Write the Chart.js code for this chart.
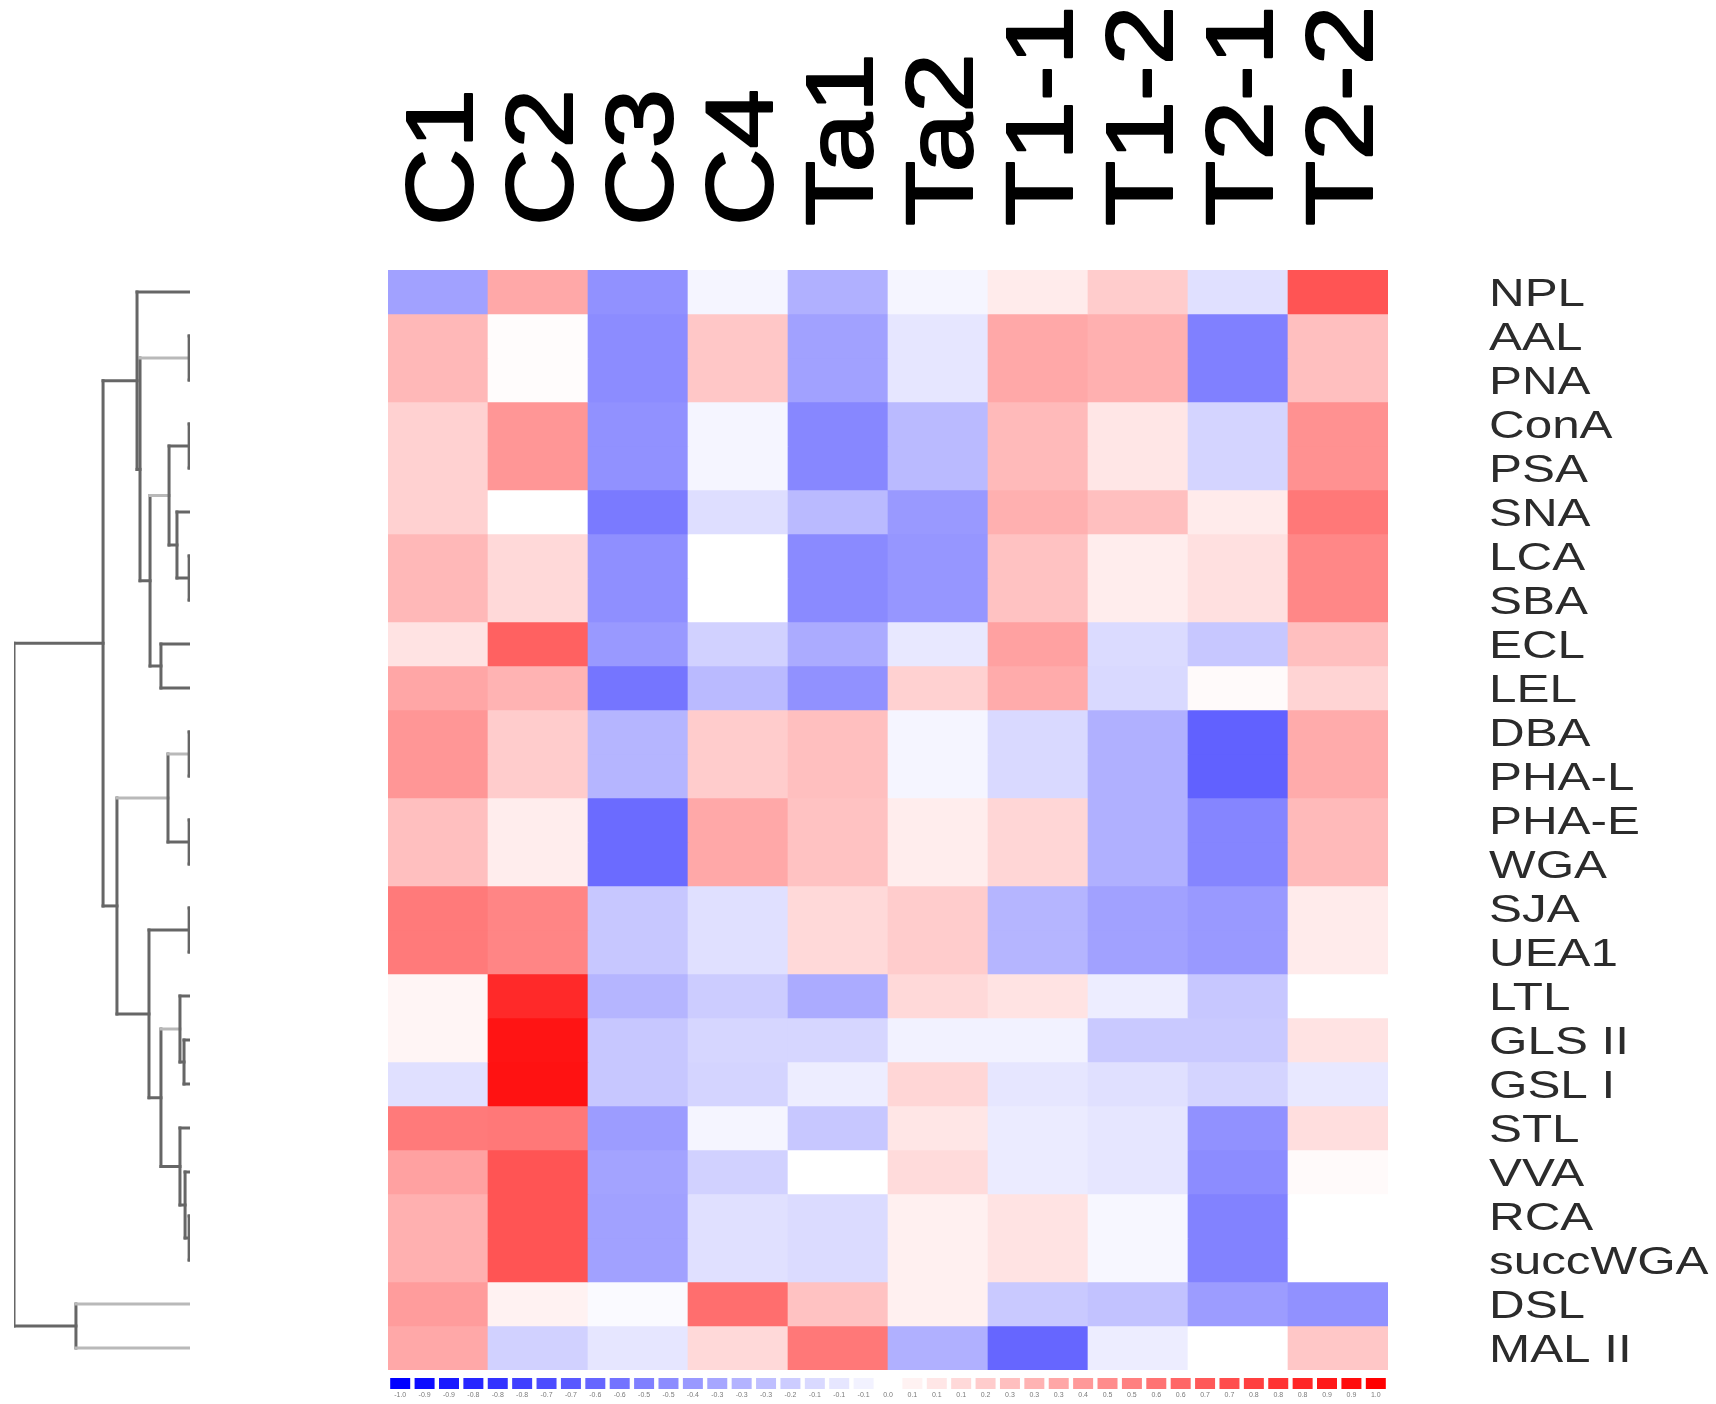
<!DOCTYPE html>
<html>
<head>
<meta charset="utf-8">
<title>Lectin heatmap</title>
<script src="https://cdn.jsdelivr.net/npm/chart.js@4.4.1/dist/chart.umd.min.js"></script>
<style>
  html, body { margin: 0; padding: 0; background: #fff; }
  body { width: 1716px; height: 1404px; position: relative; overflow: hidden; }
  canvas { position: absolute; }
  #tree { left: 0; top: 270px; }
  #heat { left: 380px; top: 0; }
  #key { left: 388px; top: 1372px; }
</style>
</head>
<body>
<canvas id="tree" width="200" height="1100"></canvas>
<canvas id="heat" width="1336" height="1370"></canvas>
<canvas id="key" width="1000" height="32"></canvas>
<script>
// ============================================================
// DATA
// ============================================================
const samples = ['C1', 'C2', 'C3', 'C4', 'Ta1', 'Ta2', 'T1-1', 'T1-2', 'T2-1', 'T2-2'];

const lectins = ['NPL', 'AAL', 'PNA', 'ConA', 'PSA', 'SNA', 'LCA', 'SBA', 'ECL', 'LEL',
    'DBA', 'PHA-L', 'PHA-E', 'WGA', 'SJA', 'UEA1', 'LTL', 'GLS II', 'GSL I', 'STL',
    'VVA', 'RCA', 'succWGA', 'DSL', 'MAL II'];

// one row per lectin, one value per sample (negative = blue, positive = red)
const scores = [
    [-0.37, 0.34, -0.43, -0.04, -0.31, -0.04, 0.08, 0.20, -0.12, 0.67],   // NPL
    [0.28, 0.01, -0.45, 0.22, -0.37, -0.10, 0.34, 0.31, -0.50, 0.25],     // AAL
    [0.28, 0.01, -0.45, 0.22, -0.37, -0.10, 0.34, 0.31, -0.50, 0.25],     // PNA
    [0.18, 0.41, -0.43, -0.04, -0.47, -0.27, 0.27, 0.10, -0.17, 0.43],    // ConA
    [0.18, 0.41, -0.43, -0.04, -0.47, -0.27, 0.27, 0.10, -0.17, 0.43],    // PSA
    [0.18, 0.00, -0.52, -0.13, -0.27, -0.40, 0.31, 0.25, 0.08, 0.53],     // SNA
    [0.28, 0.15, -0.44, 0.00, -0.46, -0.41, 0.24, 0.07, 0.12, 0.47],      // LCA
    [0.28, 0.15, -0.44, 0.00, -0.46, -0.41, 0.24, 0.07, 0.12, 0.47],      // SBA
    [0.11, 0.62, -0.40, -0.18, -0.33, -0.09, 0.37, -0.14, -0.22, 0.25],   // ECL
    [0.35, 0.30, -0.54, -0.27, -0.43, 0.18, 0.33, -0.15, 0.02, 0.17],     // LEL
    [0.41, 0.20, -0.29, 0.20, 0.25, -0.04, -0.15, -0.31, -0.62, 0.33],    // DBA
    [0.41, 0.20, -0.29, 0.20, 0.25, -0.04, -0.15, -0.31, -0.62, 0.33],    // PHA-L
    [0.25, 0.07, -0.58, 0.34, 0.24, 0.07, 0.16, -0.31, -0.48, 0.27],      // PHA-E
    [0.25, 0.07, -0.58, 0.34, 0.24, 0.07, 0.16, -0.31, -0.48, 0.27],      // WGA
    [0.52, 0.48, -0.22, -0.12, 0.15, 0.20, -0.29, -0.37, -0.40, 0.08],    // SJA
    [0.52, 0.48, -0.22, -0.12, 0.15, 0.20, -0.29, -0.37, -0.40, 0.08],    // UEA1
    [0.04, 0.84, -0.29, -0.20, -0.33, 0.15, 0.11, -0.07, -0.22, 0.00],    // LTL
    [0.04, 0.92, -0.22, -0.16, -0.16, -0.05, -0.05, -0.21, -0.21, 0.11],  // GLS II
    [-0.12, 0.93, -0.22, -0.17, -0.07, 0.16, -0.10, -0.12, -0.17, -0.09], // GSL I
    [0.52, 0.53, -0.39, -0.04, -0.22, 0.10, -0.08, -0.10, -0.43, 0.13],   // STL
    [0.37, 0.67, -0.36, -0.18, 0.00, 0.14, -0.08, -0.10, -0.45, 0.02],    // VVA
    [0.31, 0.67, -0.37, -0.12, -0.14, 0.06, 0.11, -0.03, -0.49, 0.00],    // RCA
    [0.31, 0.67, -0.37, -0.12, -0.14, 0.06, 0.11, -0.03, -0.49, 0.00],    // succWGA
    [0.39, 0.05, -0.02, 0.57, 0.24, 0.06, -0.21, -0.24, -0.39, -0.43],    // DSL
    [0.34, -0.18, -0.10, 0.15, 0.53, -0.31, -0.60, -0.07, 0.00, 0.22]     // MAL II
];

// dendrogram: node i joins treeLeft[i] and treeRight[i] at treeHeight[i]
const treeNodes  = ['A', 'H', 'K', 'I', 'F', 'G', 'B', 'C', 'D', 'O', 'P', 'M',
    'Q', 'U', 'S', 'W', 'V', 'T', 'R', 'N', 'L', 'E', 'X', 'root'];
const treeLeft   = ['AAL', 'ConA', 'LCA', 'SNA', 'H', 'ECL', 'F', 'A', 'NPL', 'DBA', 'PHA-E', 'O',
    'SJA', 'GLS II', 'LTL', 'RCA', 'VVA', 'STL', 'S', 'Q', 'M', 'D', 'DSL', 'E'];
const treeRight  = ['PNA', 'PSA', 'SBA', 'K', 'I', 'LEL', 'G', 'B', 'C', 'PHA-L', 'WGA', 'P',
    'UEA1', 'GSL I', 'U', 'succWGA', 'W', 'V', 'T', 'R', 'N', 'L', 'MAL II', 'X'];
const treeHeight = [0.005, 0.005, 0.005, 0.074, 0.119, 0.165, 0.227, 0.284, 0.301, 0.005, 0.005, 0.125,
    0.005, 0.034, 0.057, 0.005, 0.028, 0.057, 0.165, 0.233, 0.415, 0.494, 0.648, 1.0];

// colour key levels
const keyLevels = [-1.00, -0.95, -0.90, -0.85, -0.80, -0.75, -0.70, -0.65, -0.60, -0.55,
    -0.50, -0.45, -0.40, -0.35, -0.30, -0.25, -0.20, -0.15, -0.10, -0.05, 0.00,
    0.05, 0.10, 0.15, 0.20, 0.25, 0.30, 0.35, 0.40, 0.45, 0.50,
    0.55, 0.60, 0.65, 0.70, 0.75, 0.80, 0.85, 0.90, 0.95, 1.00];

// ============================================================
// HELPERS
// ============================================================
function cellColor(v) {
    const t = Math.round(255 * (1 - Math.min(1, Math.abs(v))));
    return v < 0 ? `rgb(${t},${t},255)` : `rgb(255,${t},${t})`;
}

const labelFont = '"Liberation Sans", Arial, Helvetica, sans-serif';
const noLegend = { legend: { display: false }, tooltip: { enabled: false } };

// ============================================================
// DENDROGRAM
// ============================================================
const treePos = {};
lectins.forEach((name, i) => { treePos[name] = { h: 0, y: i + 0.5 }; });

const darkLine = '#666666';
const lightLine = '#b9b9b9';
const lightStems = ['A', 'F', 'M', 'O', 'S', 'DSL', 'MAL II'];

const treeSets = [];
function segment(a, b, color) {
    treeSets.push({
        data: [a, b],
        showLine: true,
        borderColor: color,
        borderWidth: 3,
        borderCapStyle: 'square',
        pointRadius: 0,
        fill: false
    });
}

treeNodes.forEach((node, i) => {
    const l = treePos[treeLeft[i]];
    const r = treePos[treeRight[i]];
    const h = treeHeight[i];
    treePos[node] = { h: h, y: (l.y + r.y) / 2 };
    segment({ x: l.h, y: l.y }, { x: h, y: l.y }, lightStems.includes(treeLeft[i]) ? lightLine : darkLine);
    segment({ x: r.h, y: r.y }, { x: h, y: r.y }, lightStems.includes(treeRight[i]) ? lightLine : darkLine);
    segment({ x: h, y: l.y }, { x: h, y: r.y }, darkLine);
});

new Chart(document.getElementById('tree'), {
    type: 'scatter',
    data: { datasets: treeSets },
    options: {
        responsive: false,
        animation: false,
        plugins: noLegend,
        layout: { padding: { left: 14, right: 10, top: 0, bottom: 0 } },
        scales: {
            x: { type: 'linear', min: 0, max: 1, reverse: true, display: false },
            y: { type: 'linear', min: 0, max: lectins.length, reverse: true, display: false }
        }
    }
});

// ============================================================
// HEATMAP
// ============================================================
const heatLabels = {
    id: 'heatLabels',
    afterDraw(chart) {
        const { ctx, chartArea, scales: { x, y } } = chart;
        ctx.save();

        // sample names, rotated, above the columns
        const colSize = 94;
        ctx.fillStyle = '#000';
        ctx.strokeStyle = '#000';
        ctx.lineWidth = 2;
        ctx.lineJoin = 'round';
        ctx.font = `${colSize}px ${labelFont}`;
        ctx.textAlign = 'left';
        ctx.textBaseline = 'alphabetic';
        samples.forEach((s, i) => {
            ctx.save();
            ctx.translate(x.getPixelForValue(i) + colSize * 0.716 / 2, chartArea.top - 44);
            ctx.rotate(-Math.PI / 2);
            ctx.scale(1.14, 1);
            ctx.fillText(s, 0, 0);
            ctx.strokeText(s, 0, 0);
            ctx.restore();
        });

        // lectin names on the right
        const rowSize = 38;
        ctx.fillStyle = '#2b2b2b';
        ctx.font = `${rowSize}px ${labelFont}`;
        lectins.forEach((name, r) => {
            ctx.save();
            ctx.translate(chartArea.right + 101, y.getPixelForValue(r + 0.5) + rowSize * 0.716 / 2);
            ctx.scale(1.3, 1);
            ctx.fillText(name, 0, 0);
            ctx.restore();
        });
        ctx.restore();
    }
};

new Chart(document.getElementById('heat'), {
    type: 'bar',
    data: {
        labels: samples,
        datasets: lectins.map((name, r) => ({
            label: name,
            data: samples.map(() => [r, r + 1]),
            backgroundColor: scores[r].map(cellColor),
            borderWidth: 0,
            barPercentage: 1,
            categoryPercentage: 1,
            grouped: false
        }))
    },
    options: {
        responsive: false,
        animation: false,
        plugins: noLegend,
        layout: { padding: { left: 8, right: 328, top: 270, bottom: 0 } },
        scales: {
            x: { display: false },
            y: { min: 0, max: lectins.length, reverse: true, display: false }
        }
    },
    plugins: [heatLabels]
});

// ============================================================
// COLOUR KEY
// ============================================================
const keyLabels = {
    id: 'keyLabels',
    afterDraw(chart) {
        const { ctx, chartArea, scales: { x } } = chart;
        ctx.save();
        ctx.fillStyle = '#7a7a7a';
        ctx.font = `7px ${labelFont}`;
        ctx.textAlign = 'center';
        ctx.textBaseline = 'top';
        keyLevels.forEach((v, i) => {
            ctx.fillText(v.toFixed(1), x.getPixelForValue(i), chartArea.bottom + 3);
        });
        ctx.restore();
    }
};

new Chart(document.getElementById('key'), {
    type: 'bar',
    data: {
        labels: keyLevels.map(v => v.toFixed(2)),
        datasets: [{
            data: keyLevels.map(() => 1),
            backgroundColor: keyLevels.map(cellColor),
            borderWidth: 0,
            barPercentage: 0.82,
            categoryPercentage: 1
        }]
    },
    options: {
        responsive: false,
        animation: false,
        plugins: noLegend,
        layout: { padding: { left: 0, right: 0, top: 6, bottom: 15 } },
        scales: {
            x: { display: false },
            y: { min: 0, max: 1, display: false }
        }
    },
    plugins: [keyLabels]
});
</script>
</body>
</html>
